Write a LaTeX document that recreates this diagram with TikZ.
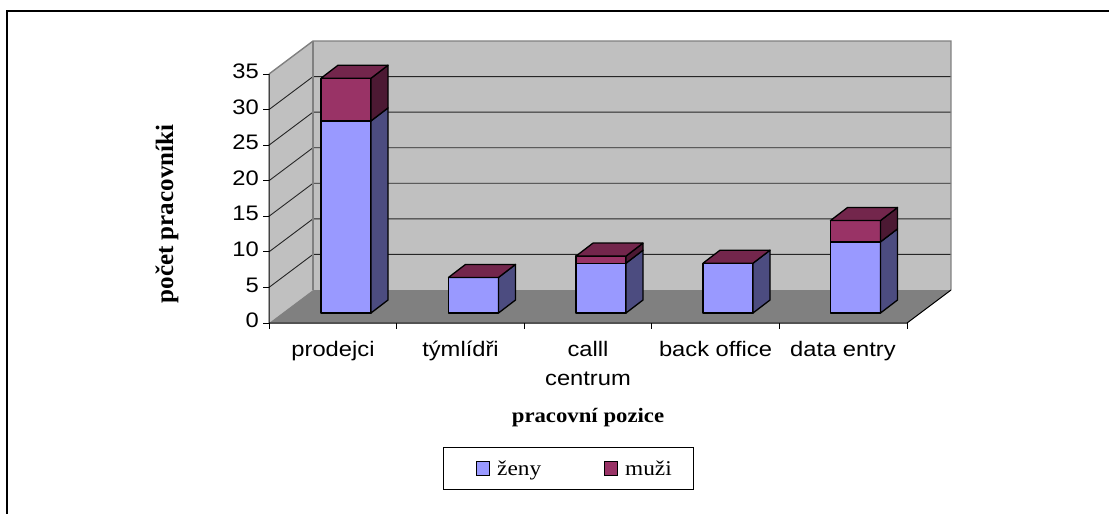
\documentclass[tikz,border=0pt]{standalone}
\usepackage{fontspec}
\newfontfamily\axfont[FakeStretch=1.13]{Liberation Sans}
\newfontfamily\serfont[FakeStretch=1.11]{Liberation Serif}
\newfontfamily\serfontup{Liberation Serif}

\definecolor{wallc}{HTML}{C0C0C0}
\definecolor{floorc}{HTML}{808080}
\definecolor{edgec}{HTML}{808080}
\definecolor{zen}{HTML}{9999FF}
\definecolor{muz}{HTML}{993366}
\colorlet{zenside}{zen!50!black}
\colorlet{muzside}{muz!50!black}
\colorlet{muztop}{muz!75!black}

\begin{document}
\begin{tikzpicture}[x=1pt,y=-1pt,
  ticklab/.style={font=\axfont\fontsize{21}{25}\selectfont, anchor=east, inner sep=0pt},
  catlab/.style={font=\axfont\fontsize{21}{29}\selectfont, anchor=base, inner sep=0pt, align=center},
  axtitle/.style={font=\serfont\bfseries\fontsize{20.5}{24}\selectfont, inner sep=0pt},
  legtext/.style={font=\serfont\fontsize{21}{25}\selectfont, anchor=base west, inner sep=0pt},
  barface/.style={draw=black, line width=1.3pt, line join=round},
  gridln/.style={draw=black!85, line width=0.9pt},
  wallrim/.style={draw=edgec, line width=1.4pt}]

\useasboundingbox (0,0) rectangle (1109,514);

% outer frame (top and left edges)
\draw[line width=2pt] (7,514) -- (7,11) -- (1109,11);

% walls and floor of the 3-D plot area
\fill[wallc] (269,323) -- (269,74) -- (313,41) -- (313,290) -- cycle;
\fill[wallc] (313,41) rectangle (951,290);
\fill[floorc] (269,323) -- (313,290) -- (951,290) -- (907,323) -- cycle;

% gridlines on side and back walls
\pgfmathsetmacro\unit{249/35}
\foreach \v in {5,10,...,30}{
  \pgfmathsetmacro\yy{323-\v*\unit}
  \draw[gridln] (269,\yy) -- (313,\yy-33) -- (951,\yy-33);
}

% wall rims
\draw[wallrim] (269,74) -- (313,41) -- (951,41) -- (951,290);
\draw[wallrim] (313,41) -- (313,290);

% axes
\draw[line width=1pt] (269,74) -- (269,323) -- (907,323) -- (951,290);
\foreach \v in {0,5,...,35}{
  \pgfmathsetmacro\yy{323-\v*\unit}
  \draw[line width=1pt] (263,\yy) -- (269,\yy);
  \node[ticklab] (tick\v) at (259,\yy-2.5) {\v};
}
\foreach \x in {269,396.6,524.2,651.8,779.4,907}{
  \draw[line width=1pt] (\x,323) -- (\x,329);
}

% stacked 3-D bars: left x / zeny / muzi
\foreach \xl/\z/\m in {321/27/6, 448.5/5/0, 576/7/1, 703/7/0, 830.5/10/3}{
  \pgfmathsetmacro\yz{313-\z*\unit}
  \pgfmathsetmacro\yt{313-(\z+\m)*\unit}
  \path[barface, fill=zen] (\xl,313) -- (\xl+50,313) -- (\xl+50,\yz) -- (\xl,\yz) -- cycle;
  \path[barface, fill=zenside] (\xl+50,313) -- (\xl+67,300) -- (\xl+67,\yz-13) -- (\xl+50,\yz) -- cycle;
  \ifnum\m>0
    \path[barface, fill=muz] (\xl,\yz) -- (\xl+50,\yz) -- (\xl+50,\yt) -- (\xl,\yt) -- cycle;
    \path[barface, fill=muzside] (\xl+50,\yz) -- (\xl+67,\yz-13) -- (\xl+67,\yt-13) -- (\xl+50,\yt) -- cycle;
  \fi
  \path[barface, fill=muztop] (\xl,\yt) -- (\xl+17,\yt-13) -- (\xl+67,\yt-13) -- (\xl+50,\yt) -- cycle;
}

% category labels (a two-line label sits on the baseline of its last line)
\node[catlab] (cat-a) at (333,356) {prodejci};
\node[catlab] (cat-b) at (460.5,356) {týmlídři};
\node[catlab] (cat-c) at (588,385) {calll\\centrum};
\node[catlab] (cat-d) at (715.5,356) {back office};
\node[catlab] (cat-e) at (843,356) {data entry};

% axis titles
\node[axtitle, anchor=base] (xtitle) at (588,422) {pracovní pozice};
\node[font=\serfontup\bfseries\fontsize{25}{30}\selectfont, inner sep=0pt, rotate=90] (ytitle) at (167,214) {počet pracovníki};

% legend
\draw[line width=1pt] (443,447) rectangle (693,489);
\filldraw[draw=black, line width=1pt, fill=zen] (476,461) rectangle (489,475);
\filldraw[draw=black, line width=1pt, fill=muz] (604,461) rectangle (617,475);
\node[legtext] (leg-z) at (497,475) {ženy};
\node[legtext] (leg-m) at (625,475) {muži};

\end{tikzpicture}
\end{document}
